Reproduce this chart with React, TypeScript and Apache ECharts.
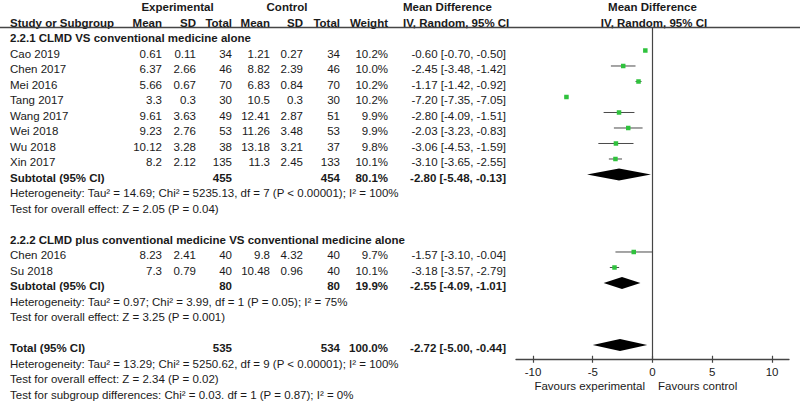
import React, { useEffect, useRef } from "react";
import * as echarts from "echarts";

// ---------- data ----------
const studies = ["Cao 2019", "Chen 2017", "Mei 2016", "Tang 2017", "Wang 2017", "Wei 2018", "Wu 2018", "Xin 2017", "Chen 2016", "Su 2018"];
const studyRows = [3, 4, 5, 6, 7, 8, 9, 10, 16, 17];
const expMean = ["0.61", "6.37", "5.66", "3.3", "9.61", "9.23", "10.12", "8.2", "8.23", "7.3"];
const expSD = ["0.11", "2.66", "0.67", "0.3", "3.63", "2.76", "3.28", "2.12", "2.41", "0.79"];
const expN = [34, 46, 70, 30, 49, 53, 38, 135, 40, 40];
const ctlMean = ["1.21", "8.82", "6.83", "10.5", "12.41", "11.26", "13.18", "11.3", "9.8", "10.48"];
const ctlSD = ["0.27", "2.39", "0.84", "0.3", "2.87", "3.48", "3.21", "2.45", "4.32", "0.96"];
const ctlN = [34, 46, 70, 30, 51, 53, 37, 133, 40, 40];
const weights = [10.2, 10.0, 10.2, 10.2, 9.9, 9.9, 9.8, 10.1, 9.7, 10.1];
const md = [-0.6, -2.45, -1.17, -7.2, -2.8, -2.03, -3.06, -3.1, -1.57, -3.18];
const lo = [-0.7, -3.48, -1.42, -7.35, -4.09, -3.23, -4.53, -3.65, -3.1, -3.57];
const hi = [-0.5, -1.42, -0.92, -7.05, -1.51, -0.83, -1.59, -2.55, -0.04, -2.79];

const pooledNames = ["Subtotal (95% CI)", "Subtotal (95% CI)", "Total (95% CI)"];
const pooledRows = [11, 18, 22];
const pooledExpN = [455, 80, 535];
const pooledCtlN = [454, 80, 534];
const pooledWeights = [80.1, 19.9, 100.0];
const pooledMd = [-2.8, -2.55, -2.72];
const pooledLo = [-5.48, -4.09, -5.0];
const pooledHi = [-0.13, -1.01, -0.44];

const subgroupTitles = ["2.2.1 CLMD VS conventional medicine alone", "2.2.2 CLMD plus conventional medicine VS conventional medicine alone"];
const subgroupRows = [2, 15];

const noteTexts = [
  "Heterogeneity: Tau² = 14.69; Chi² = 5235.13, df = 7 (P < 0.00001); I² = 100%",
  "Test for overall effect: Z = 2.05 (P = 0.04)",
  "Heterogeneity: Tau² = 0.97; Chi² = 3.99, df = 1 (P = 0.05); I² = 75%",
  "Test for overall effect: Z = 3.25 (P = 0.001)",
  "Heterogeneity: Tau² = 13.29; Chi² = 5250.62, df = 9 (P < 0.00001); I² = 100%",
  "Test for overall effect: Z = 2.34 (P = 0.02)",
  "Test for subgroup differences: Chi² = 0.03. df = 1 (P = 0.87); I² = 0%",
];
const noteRows = [12, 13, 19, 20, 23, 24, 25];

const xTicks = [-10, -5, 0, 5, 10];

// ---------- layout ----------
const FONT = "'Liberation Sans', Arial, sans-serif";
const FS = 11.5;
const TXT = "#1a1a1a";
const rowY = (k: number) => 7 + 15.5 * k;

const COL = {
  study: 10,
  eMean: 162,
  eSD: 196,
  eN: 232,
  cMean: 270,
  cSD: 303,
  cN: 340,
  w: 388,
  ci: 506,
};

function txt(text: string, x: number, y: number, align: string, bold = false) {
  return {
    type: "text",
    x,
    y,
    silent: true,
    style: {
      text,
      fill: TXT,
      fontSize: FS,
      fontFamily: FONT,
      fontWeight: bold ? "bold" : "normal",
      align,
      verticalAlign: "middle",
      textAlign: align,
      textVerticalAlign: "middle",
    },
  };
}

const fmtCI = (m: number, l: number, h: number) => `${m.toFixed(2)} [${l.toFixed(2)}, ${h.toFixed(2)}]`;

export default function App() {
  const ref = useRef<HTMLDivElement>(null);
  useEffect(() => {
    if (!ref.current) return;
    const chart = echarts.init(ref.current, undefined, { renderer: "svg" });

    const graphics: any[] = [];
    // headers
    graphics.push(txt("Experimental", 177.5, rowY(0), "center", true));
    graphics.push(txt("Control", 287, rowY(0), "center", true));
    graphics.push(txt("Mean Difference", 403, rowY(0), "left", true));
    graphics.push(txt("Mean Difference", 652.5, rowY(0), "center", true));
    graphics.push(txt("Study or Subgroup", COL.study, rowY(1), "left", true));
    graphics.push(txt("Mean", COL.eMean, rowY(1), "right", true));
    graphics.push(txt("SD", COL.eSD, rowY(1), "right", true));
    graphics.push(txt("Total", COL.eN, rowY(1), "right", true));
    graphics.push(txt("Mean", COL.cMean, rowY(1), "right", true));
    graphics.push(txt("SD", COL.cSD, rowY(1), "right", true));
    graphics.push(txt("Total", COL.cN, rowY(1), "right", true));
    graphics.push(txt("Weight", COL.w, rowY(1), "right", true));
    graphics.push(txt("IV, Random, 95% CI", 403, rowY(1), "left", true));
    graphics.push(txt("IV, Random, 95% CI", 654, rowY(1), "center", true));
    graphics.push({
      type: "line",
      silent: true,
      shape: { x1: 0, y1: 27.5, x2: 800, y2: 27.5 },
      style: { stroke: "#454545", lineWidth: 1.5 },
    });

    subgroupTitles.forEach((t, i) => graphics.push(txt(t, COL.study, rowY(subgroupRows[i]), "left", true)));

    studies.forEach((s, i) => {
      const y = rowY(studyRows[i]);
      graphics.push(txt(s, COL.study, y, "left"));
      graphics.push(txt(expMean[i], COL.eMean, y, "right"));
      graphics.push(txt(expSD[i], COL.eSD, y, "right"));
      graphics.push(txt(String(expN[i]), COL.eN, y, "right"));
      graphics.push(txt(ctlMean[i], COL.cMean, y, "right"));
      graphics.push(txt(ctlSD[i], COL.cSD, y, "right"));
      graphics.push(txt(String(ctlN[i]), COL.cN, y, "right"));
      graphics.push(txt(weights[i].toFixed(1) + "%", COL.w, y, "right"));
      graphics.push(txt(fmtCI(md[i], lo[i], hi[i]), COL.ci, y, "right"));
    });

    pooledNames.forEach((s, i) => {
      const y = rowY(pooledRows[i]);
      graphics.push(txt(s, COL.study, y, "left", true));
      graphics.push(txt(String(pooledExpN[i]), COL.eN, y, "right", true));
      graphics.push(txt(String(pooledCtlN[i]), COL.cN, y, "right", true));
      graphics.push(txt(pooledWeights[i].toFixed(1) + "%", COL.w, y, "right", true));
      graphics.push(txt(fmtCI(pooledMd[i], pooledLo[i], pooledHi[i]), COL.ci, y, "right", true));
    });

    noteTexts.forEach((t, i) => graphics.push(txt(t, COL.study, rowY(noteRows[i]), "left")));

    graphics.push(txt("Favours experimental", 645, 386, "right"));
    graphics.push(txt("Favours control", 658, 386, "left"));

    const studyData = studies.map((_, i) => [md[i], studyRows[i], lo[i], hi[i], weights[i]]);
    const pooledData = pooledNames.map((_, i) => [pooledMd[i], pooledRows[i], pooledLo[i], pooledHi[i]]);

    const xAxisBase = {
      type: "value",
      gridIndex: 0,
      min: -11.42,
      max: 11.42,
      splitLine: { show: false },
    };

    chart.setOption({
      animation: false,
      grid: { left: 516, right: 11, top: 27.25, height: 332 },
      xAxis: [
        {
          ...xAxisBase,
          position: "bottom",
          axisLine: { show: true, lineStyle: { color: "#454545", width: 1.3 } },
          axisTick: { show: true, inside: false, length: 3.5, customValues: xTicks, lineStyle: { color: "#454545", width: 1.2 } },
          axisLabel: { show: true, customValues: xTicks, margin: 7, color: TXT, fontSize: FS, fontFamily: FONT },
        },
        {
          ...xAxisBase,
          position: "bottom",
          axisLine: { show: false },
          axisTick: { show: true, inside: true, length: 3.5, customValues: xTicks, lineStyle: { color: "#454545", width: 1.2 } },
          axisLabel: { show: false },
        },
      ],
      yAxis: { type: "value", inverse: true, min: 1.5, max: 22.92, show: false },
      graphic: graphics,
      series: [
        {
          type: "custom",
          xAxisIndex: 0,
          data: studyData,
          renderItem: (params: any, api: any) => {
            const c = api.coord([api.value(0), api.value(1)]);
            const l = api.coord([api.value(2), api.value(1)]);
            const h = api.coord([api.value(3), api.value(1)]);
            const s = 4.5;
            return {
              type: "group",
              children: [
                { type: "line", shape: { x1: l[0], y1: l[1], x2: h[0], y2: h[1] }, style: { stroke: "#4a4a4a", lineWidth: 1 } },
                { type: "rect", shape: { x: c[0] - s / 2, y: c[1] - s / 2, width: s, height: s }, style: { fill: "#2fc23d" } },
              ],
            };
          },
          markLine: {
            silent: true,
            symbol: "none",
            label: { show: false },
            lineStyle: { color: "#454545", width: 1.2, type: "solid" },
            data: [{ xAxis: 0 }],
          },
        },
        {
          type: "custom",
          xAxisIndex: 0,
          data: pooledData,
          renderItem: (params: any, api: any) => {
            const c = api.coord([api.value(0), api.value(1)]);
            const l = api.coord([api.value(2), api.value(1)]);
            const h = api.coord([api.value(3), api.value(1)]);
            const hh = 6;
            return {
              type: "polygon",
              shape: { points: [[l[0], l[1]], [c[0], c[1] - hh], [h[0], h[1]], [c[0], c[1] + hh]] },
              style: { fill: "#000" },
            };
          },
        },
      ],
    });
    return () => chart.dispose();
  }, []);
  return <div ref={ref} style={{ position: "fixed", left: 0, top: 0, width: 800, height: 402, background: "#fff" }} />;
}
